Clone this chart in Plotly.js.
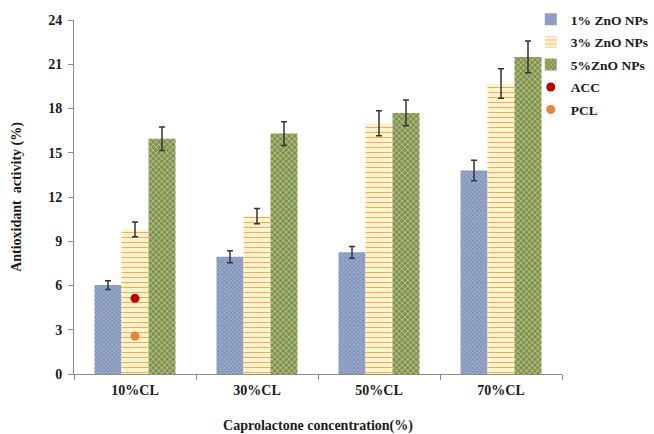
<!DOCTYPE html>
<html>
<head>
<meta charset="utf-8">
<script src="https://cdn.plot.ly/plotly-3.0.1.min.js"></script>
<style>
  html, body { margin: 0; padding: 0; background: #fff; }
  #chart { width: 654px; height: 434px; }
</style>
</head>
<body>
<div id="chart"></div>
<script>
// Antioxidant activity of caprolactone blends at three ZnO nanoparticle loadings
const categories = ['10%CL', '30%CL', '50%CL', '70%CL'];

const zno1 = [6.03, 7.95, 8.25, 13.8];
const zno1Err = [0.3, 0.4, 0.4, 0.7];

const zno3 = [9.8, 10.7, 17.0, 19.7];
const zno3Err = [0.5, 0.52, 0.85, 1.0];

const zno5 = [15.95, 16.3, 17.7, 21.5];
const zno5Err = [0.8, 0.8, 0.87, 1.08];

// Reference samples, shown only at the first concentration
const accCategory = ['10%CL'];
const accValue = [5.13];
const pclCategory = ['10%CL'];
const pclValue = [2.58];

const serif = 'Liberation Serif, Times New Roman, serif';
const ink = '#1a1a1a';
const txt = (size) => ({ family: serif, size: size, color: ink, weight: 'bold' });
const errStyle = (arr) => ({
  type: 'data', array: arr, visible: true,
  color: '#333333', thickness: 1.5, width: 3
});

const traces = [
  {
    type: 'bar', name: '1% ZnO NPs', x: categories, y: zno1,
    error_y: errStyle(zno1Err), legendgroup: 'a',
    marker: {
      color: '#8a9cc0',
      line: { width: 0 },
      pattern: { shape: 'x', fgcolor: '#7085ad', bgcolor: '#9aaacb', size: 3, solidity: 0.4 }
    }
  },
  {
    type: 'bar', name: '3% ZnO NPs', x: categories, y: zno3,
    error_y: errStyle(zno3Err), legendgroup: 'b',
    marker: {
      color: '#fff3c8',
      line: { width: 0 },
      pattern: { shape: '-', fgcolor: '#f5aa64', bgcolor: '#fff4cc', size: 5, solidity: 0.2 }
    }
  },
  {
    type: 'bar', name: '5%ZnO NPs', x: categories, y: zno5,
    error_y: errStyle(zno5Err), legendgroup: 'c',
    marker: {
      color: '#8d9d5c',
      line: { width: 0 },
      pattern: { shape: 'x', fgcolor: '#c3d196', bgcolor: '#7e914f', size: 4, solidity: 0.35 }
    }
  },
  {
    type: 'scatter', mode: 'markers', name: 'ACC', x: accCategory, y: accValue,
    legendgroup: 'd',
    marker: { color: '#c00000', size: 9 }
  },
  {
    type: 'scatter', mode: 'markers', name: 'PCL', x: pclCategory, y: pclValue,
    legendgroup: 'e',
    marker: { color: '#e8843c', size: 9 }
  }
];

const layout = {
  width: 654, height: 434,
  paper_bgcolor: '#ffffff', plot_bgcolor: '#ffffff',
  margin: { l: 74, r: 92, t: 20, b: 60, autoexpand: false },
  font: txt(14),
  barmode: 'group',
  bargap: 0.336,
  bargroupgap: 0,
  showlegend: true,
  legend: {
    x: 0.936, xanchor: 'left', y: 1.045, yanchor: 'top',
    bgcolor: 'rgba(0,0,0,0)',
    font: txt(13.5),
    traceorder: 'grouped', tracegroupgap: 2,
    itemwidth: 30
  },
  xaxis: {
    type: 'category',
    showline: true, linecolor: '#8c8c8c', linewidth: 1,
    ticks: 'outside', tickson: 'boundaries', ticklen: 5, tickcolor: '#8c8c8c',
    ticklabelstandoff: 3,
    showgrid: false, zeroline: false,
    tickfont: txt(14),
    title: { text: 'Caprolactone concentration(%)', font: txt(14), standoff: 26 }
  },
  yaxis: {
    range: [0, 24], dtick: 3, tick0: 0,
    showline: true, linecolor: '#8c8c8c', linewidth: 1,
    ticks: 'outside', ticklen: 5, tickcolor: '#8c8c8c',
    ticklabelstandoff: 3,
    showgrid: false, zeroline: false,
    tickfont: txt(14),
    title: { text: 'Antioxidant  activity (%)', font: txt(14), standoff: 23 }
  }
};

Plotly.newPlot('chart', traces, layout, { staticPlot: true, displayModeBar: false });
</script>
</body>
</html>
